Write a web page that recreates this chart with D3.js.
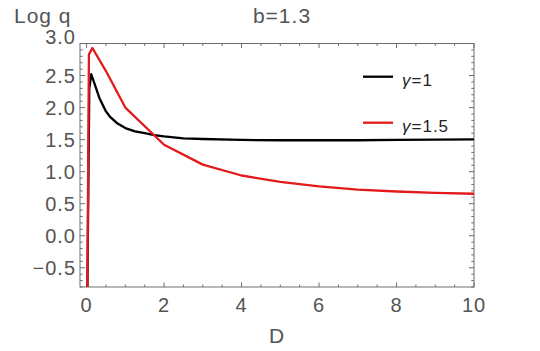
<!DOCTYPE html>
<html>
<head>
    <meta charset="utf-8">
    <title>Log q vs D</title>
    <script src="https://d3js.org/d3.v7.min.js"></script>
    <style>
        body { margin: 0; background: #fff; }
        text {
            font-family: "Liberation Sans", Arial, sans-serif;
            fill: #545454;
            letter-spacing: 1px;
        }
        .frame line, .frame rect { stroke: #6e6e6e; }
    </style>
</head>
<body>
    <script>
        // values
        var gamma1D = [0.018, 0.07, 0.12, 0.2, 0.33, 0.5, 0.6, 0.8, 1.0, 1.25, 1.5, 1.75, 2, 2.5, 3, 4, 5, 6, 7, 8, 9, 10];
        var gamma1Q = [-1.0, 2.3, 2.52, 2.38, 2.15, 1.94, 1.86, 1.75, 1.68, 1.63, 1.60, 1.57, 1.55, 1.52, 1.51, 1.495, 1.49, 1.49, 1.49, 1.495, 1.5, 1.505];
        var gamma15D = [0.018, 0.06, 0.15, 0.5, 1, 2, 3, 4, 5, 6, 7, 8, 9, 10];
        var gamma15Q = [-1.0, 2.83, 2.93, 2.57, 2.0, 1.42, 1.11, 0.94, 0.84, 0.77, 0.72, 0.69, 0.67, 0.655];

        var xMajor = [0, 2, 4, 6, 8, 10];
        var yMajor = [-0.5, 0.0, 0.5, 1.0, 1.5, 2.0, 2.5, 3.0];
        var legendLabels = ["γ=1", "γ=1.5"];
        var colors = ["#000000", "#e31a1c"];

        var width = 540, height = 351;
        var plotLeft = 80, plotRight = 474, plotTop = 43.5, plotBottom = 287;

        var svg = d3.select("body").append("svg")
            .attr("width", width)
            .attr("height", height);

        var x = d3.scaleLinear().domain([-0.17, 10]).range([plotLeft, plotRight]);
        var y = d3.scaleLinear().domain([-0.8, 3.0]).range([plotBottom, plotTop]);

        var xMinor = d3.range(0, 10.01, 0.5).filter(function(d) { return xMajor.indexOf(d) < 0; });
        var yMinor = d3.range(-8, 31).map(function(d) { return d / 10; })
            .filter(function(d) { return Math.abs(d * 2 - Math.round(d * 2)) > 1e-6; });

        svg.append("clipPath").attr("id", "plot")
            .append("rect")
            .attr("x", plotLeft).attr("y", plotTop)
            .attr("width", plotRight - plotLeft).attr("height", plotBottom - plotTop);

        var frame = svg.append("g").attr("class", "frame");

        // ticks on all four sides, pointing inward
        function ticks(values, len, horizontal) {
            values.forEach(function(v) {
                if (horizontal) {
                    frame.append("line").attr("x1", x(v)).attr("x2", x(v)).attr("y1", plotBottom).attr("y2", plotBottom - len);
                    frame.append("line").attr("x1", x(v)).attr("x2", x(v)).attr("y1", plotTop).attr("y2", plotTop + len);
                } else {
                    frame.append("line").attr("y1", y(v)).attr("y2", y(v)).attr("x1", plotLeft).attr("x2", plotLeft + len);
                    frame.append("line").attr("y1", y(v)).attr("y2", y(v)).attr("x1", plotRight).attr("x2", plotRight - len);
                }
            });
        }
        ticks(xMajor, 4.5, true);
        ticks(xMinor, 2.5, true);
        ticks(yMajor, 5, false);
        ticks(yMinor, 2.7, false);

        frame.append("rect")
            .attr("x", plotLeft).attr("y", plotTop)
            .attr("width", plotRight - plotLeft).attr("height", plotBottom - plotTop)
            .attr("fill", "none");

        svg.append("g").selectAll("text")
            .data(xMajor)
            .enter().append("text")
            .attr("x", function(d) { return x(d); })
            .attr("y", 312)
            .attr("text-anchor", "middle")
            .style("font-size", "20px")
            .text(function(d) { return d; });

        svg.append("g").selectAll("text")
            .data(yMajor)
            .enter().append("text")
            .attr("x", 76)
            .attr("y", function(d) { return y(d) + (d === 3 ? -7 : 0); })
            .attr("dy", "0.36em")
            .attr("text-anchor", "end")
            .style("font-size", "20px")
            .text(function(d) { return d3.format(".1f")(d).replace("-", "\u2212"); });

        svg.append("text").attr("x", 14).attr("y", 23)
            .style("font-size", "21px").text("Log q");
        svg.append("text").attr("x", 282).attr("y", 23.3)
            .attr("text-anchor", "middle")
            .style("font-size", "21px").text("b=1.3");
        svg.append("text").attr("x", 277).attr("y", 343)
            .attr("text-anchor", "middle")
            .style("font-size", "21px").text("D");

        var line = d3.line()
            .x(function(d) { return x(d[0]); })
            .y(function(d) { return y(d[1]); });

        var series = [d3.zip(gamma1D, gamma1Q), d3.zip(gamma15D, gamma15Q)];

        svg.append("g").attr("clip-path", "url(#plot)")
            .selectAll("path")
            .data(series)
            .enter().append("path")
            .attr("d", line)
            .attr("fill", "none")
            .attr("stroke", function(d, i) { return colors[i]; })
            .attr("stroke-width", 2.3)
            .attr("stroke-linejoin", "round");

        var legend = svg.append("g").selectAll("g")
            .data(legendLabels)
            .enter().append("g")
            .attr("transform", function(d, i) { return "translate(0," + (76.7 + i * 46) + ")"; });

        legend.append("line")
            .attr("x1", 363).attr("x2", 393)
            .attr("stroke", function(d, i) { return colors[i]; })
            .attr("stroke-width", 2.3);

        legend.append("text")
            .attr("x", 402)
            .attr("y", 9.5)
            .style("font-size", "17px")
            .style("fill", "#222")
            .each(function(d) {
                var t = d3.select(this);
                t.append("tspan").style("font-style", "italic").text(d.charAt(0));
                t.append("tspan").text(d.slice(1));
            });
    </script>
</body>
</html>
